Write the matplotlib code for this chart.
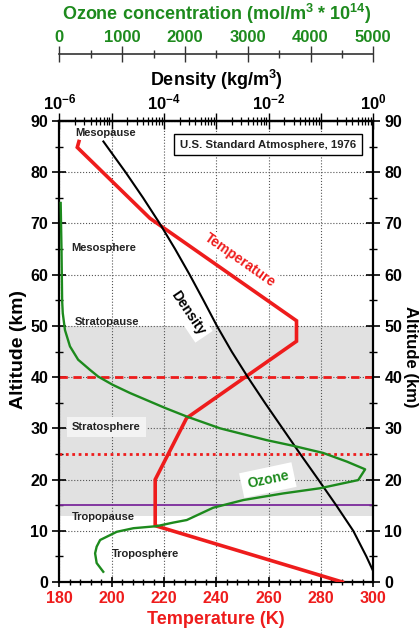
import numpy as np
import matplotlib
matplotlib.use('Agg')
import matplotlib.pyplot as plt
from matplotlib.ticker import MultipleLocator, FixedLocator, FixedFormatter, NullFormatter, LogLocator

plt.rcParams['font.family'] = ['Liberation Sans', 'DejaVu Sans']
plt.rcParams['mathtext.fontset'] = 'custom'
plt.rcParams['mathtext.rm'] = 'Liberation Sans'
plt.rcParams['mathtext.bf'] = 'Liberation Sans:bold'

# ─── Data ───
temp_alt = [0, 11, 20, 32, 47, 51, 71, 84.85, 86]
temp_K = [288.15, 216.65, 216.65, 228.65, 270.65, 270.65, 214.65, 186.87, 187.5]

dens_alt = [0, 2, 5, 10, 15, 20, 25, 30, 35, 40, 45, 50, 55, 60, 65, 70, 75, 80, 86]
dens = [1.225, 1.007, 0.7364, 0.4135, 0.1948, 0.08891, 0.04008, 0.01841, 0.008463,
        0.003996, 0.001966, 0.001027, 0.0005681, 0.0003097, 0.0001632, 8.283e-5,
        3.992e-5, 1.846e-5, 6.958e-6]

ozone_alt = [74, 65, 60, 55, 52.5, 49.2, 46, 43.4, 41.4, 40.1, 38.5, 36.9, 34, 32.3, 30,
             27.7, 26.6, 25.2, 23.5, 22, 19.9, 18.3, 17.3, 16, 14.5, 13.3, 12.1, 11.6,
             10.9, 10.5, 9.8, 8.2, 6.9, 5.6, 3.7, 2.0]
ozone = [22, 35, 40, 45, 55, 90, 170, 300, 490, 620, 850, 1125, 1680, 2030, 2560,
         3300, 3720, 4200, 4580, 4870, 4760, 4150, 3570, 2930, 2450, 2240, 2030, 1815,
         1550, 1180, 915, 650, 595, 570, 595, 700]

temp_ticks = [180, 200, 220, 240, 260, 280, 300]
alt_ticks = list(range(0, 100, 10))
dens_ticks = [1e-6, 1e-5, 1e-4, 1e-3, 1e-2, 1e-1, 1e0]
dens_labels = [r'$\mathbf{10^{-6}}$', '', r'$\mathbf{10^{-4}}$', '', r'$\mathbf{10^{-2}}$', '',
               r'$\mathbf{10^{0}}$']
ozone_ticks = [0, 1000, 2000, 3000, 4000, 5000]

RED = '#ee1c1c'
GREEN = '#1d8a1d'
TXT = '#222222'

W, H = 420, 632
fig = plt.figure(figsize=(W / 100, H / 100), dpi=100)
ax = fig.add_axes([59.3 / W, 50 / H, 314 / W, 461 / H])

# ─── Main axes: temperature vs altitude ───
ax.set_xlim(180, 300)
ax.set_ylim(0, 90)
ax.set_axisbelow(True)
ax.axhspan(12.8, 50, color='#e1e1e1', zorder=0, lw=0)
ax.grid(True, which='major', linestyle=':', color='#555555', linewidth=0.8)

ax.axhline(40, color=RED, lw=2, ls=(0, (3, 2)), zorder=2)
ax.axhline(25, color=RED, lw=2, ls=(0, (1, 1.3)), zorder=2)
ax.axhline(15, color='#7b2a9b', lw=1.3, zorder=2)

ax.plot(temp_K, temp_alt, color=RED, lw=2.6, zorder=4, solid_joinstyle='miter')

ax.set_xticks(temp_ticks)
ax.xaxis.set_minor_locator(MultipleLocator(4))
ax.set_yticks(alt_ticks)
ax.yaxis.set_minor_locator(MultipleLocator(5))
ax.tick_params(axis='x', which='major', direction='inout', length=7, width=1.2,
               labelsize=11.5, labelcolor=RED, pad=3)
ax.tick_params(axis='x', which='minor', direction='inout', length=5, width=1.0)
ax.tick_params(axis='y', which='major', direction='inout', length=10, width=1.2,
               left=True, right=True, labelleft=True, labelright=True, labelsize=11.5, pad=3)
ax.tick_params(axis='y', which='minor', direction='inout', length=6, width=1.0,
               left=True, right=True)
for lab in ax.get_xticklabels() + ax.get_yticklabels():
    lab.set_fontweight('bold')
for s in ax.spines.values():
    s.set_linewidth(1.6)

# ─── Density axis (top, log) ───
ax_d = ax.twiny()
ax_d.set_xscale('log')
ax_d.set_xlim(1e-6, 1)
ax_d.plot(dens, dens_alt, color='black', lw=1.5, zorder=3)
ax_d.xaxis.set_major_locator(FixedLocator(dens_ticks))
ax_d.xaxis.set_major_formatter(FixedFormatter(dens_labels))
ax_d.xaxis.set_minor_locator(LogLocator(base=10, subs=np.arange(2, 10), numticks=20))
ax_d.xaxis.set_minor_formatter(NullFormatter())
ax_d.tick_params(axis='x', which='major', direction='inout', length=11, width=1.0,
                 labelsize=12, pad=1)
ax_d.tick_params(axis='x', which='minor', direction='inout', length=6, width=0.9)
for s in ['left', 'right', 'bottom']:
    ax_d.spines[s].set_visible(False)
ax_d.spines['top'].set_linewidth(1.6)

# ─── Ozone axis (top, offset) ───
ax_o = ax.twiny()
ax_o.set_xlim(0, 5000)
ax_o.plot(ozone, ozone_alt, color=GREEN, lw=1.7, zorder=3)
ax_o.spines['top'].set_position(('axes', 1 + 67 / 461))
for s in ['left', 'right', 'bottom']:
    ax_o.spines[s].set_visible(False)
ax_o.spines['top'].set_color('#333333')
ax_o.spines['top'].set_linewidth(1.2)
ax_o.set_xticks(ozone_ticks)
ax_o.xaxis.set_minor_locator(MultipleLocator(500))
ax_o.tick_params(axis='x', which='major', direction='inout', length=11, width=1.0,
                 color='#333333', labelsize=12, labelcolor=GREEN, pad=1)
ax_o.tick_params(axis='x', which='minor', direction='inout', length=6, width=1.0,
                 color='#333333')
for lab in ax_o.get_xticklabels():
    lab.set_fontweight('bold')

# ─── Titles / axis labels ───
cx = (59.3 + 157) / W
fig.text(cx, 1 - 14 / H, r'Ozone concentration (mol/m$^{\mathbf{3}}$ * 10$^{\mathbf{14}}$)',
         color=GREEN, fontsize=13, fontweight='bold', ha='center', va='center')
fig.text(cx, 1 - 80 / H, r'Density (kg/m$^{\mathbf{3}}$)', color='black', fontsize=13,
         fontweight='bold', ha='center', va='center')
fig.text(cx, 1 - 620 / H, 'Temperature (K)', color=RED, fontsize=13, fontweight='bold',
         ha='center', va='center')
fig.text(19 / W, 1 - 350 / H, 'Altitude (km)', rotation=90, fontsize=14,
         fontweight='bold', ha='center', va='center')
fig.text(410.5 / W, 1 - 357 / H, 'Altitude (km)', rotation=-90, fontsize=12,
         fontweight='bold', ha='center', va='center')

# ─── In-plot annotations (on top-most axes, in temperature coords) ───
tr = ax.transData
lab_kw = dict(transform=tr, fontsize=8, fontweight='bold', color=TXT, va='center', ha='left', zorder=10)
ax_o.text(186, 87.7, 'Mesopause', **lab_kw)
ax_o.text(184.5, 65.2, 'Mesosphere', **lab_kw)
ax_o.text(186, 50.8, 'Stratopause', **lab_kw)
ax_o.text(184.9, 30.3, 'Stratosphere',
          bbox=dict(boxstyle='square,pad=0.45', fc='#f3f3f3', ec='none'), **lab_kw)
ax_o.text(184.7, 12.75, 'Tropopause', **lab_kw)
ax_o.text(200, 5.5, 'Troposphere', **lab_kw)

ax_o.text(259.7, 85.4, 'U.S. Standard Atmosphere, 1976', transform=tr, fontsize=8.2,
          fontweight='bold', color=TXT, ha='center', va='center', zorder=10,
          bbox=dict(boxstyle='square,pad=0.5', fc='white', ec='black', lw=1))

ax_o.text(249, 62.9, 'Temperature', transform=tr, rotation=-35, rotation_mode='anchor',
          fontsize=10, fontweight='bold', color=RED, ha='center', va='center', zorder=10,
          bbox=dict(boxstyle='square,pad=0.15', fc='white', ec='none'))
ax_o.text(229.2, 52.5, 'Density', transform=tr, rotation=-56, rotation_mode='anchor',
          fontsize=10, fontweight='bold', color='black', ha='center', va='center', zorder=10,
          bbox=dict(boxstyle='square,pad=0.25', fc='white', ec='none'))
ax_o.text(259.7, 19.9, 'Ozone', transform=tr, rotation=12, rotation_mode='anchor',
          fontsize=10, fontweight='bold', color=GREEN, ha='center', va='center', zorder=10,
          bbox=dict(boxstyle='square,pad=0.4', fc='white', ec='none'))

fig.savefig('out.png', dpi=100)
